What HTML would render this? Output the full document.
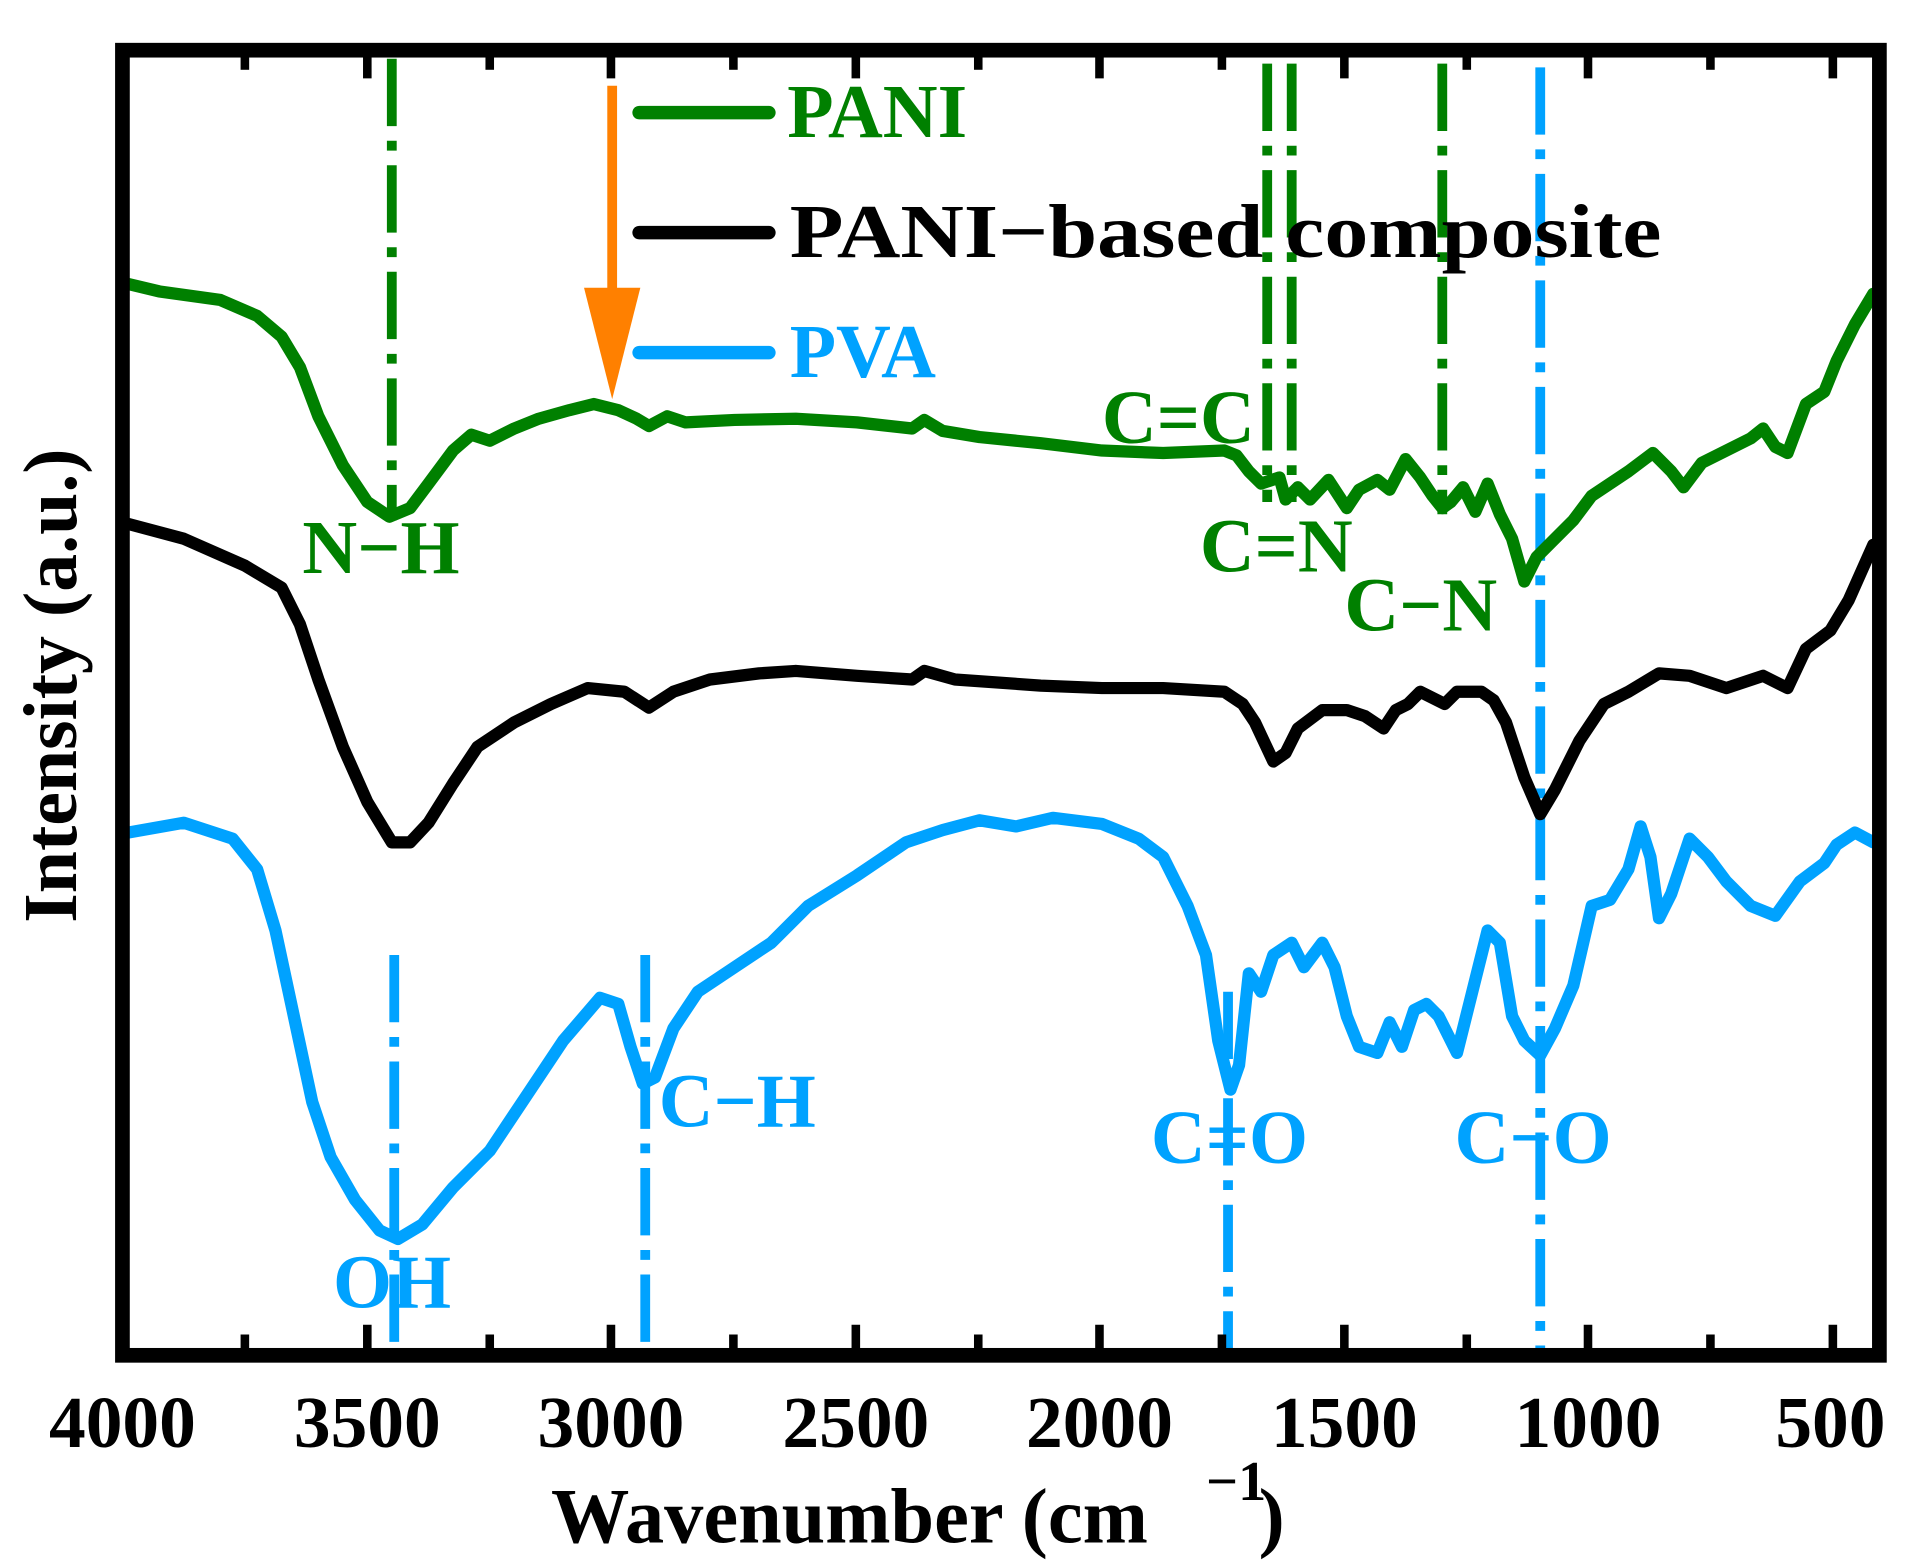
<!DOCTYPE html>
<html><head><meta charset="utf-8"><style>
html,body{margin:0;padding:0;background:#fff}
svg{display:block}
text{font-family:"Liberation Serif",serif;font-weight:bold}
</style></head><body>
<svg width="1910" height="1561" viewBox="0 0 1560 1275" preserveAspectRatio="none" xmlns="http://www.w3.org/2000/svg">
<rect width="1560" height="1275" fill="#fff"/>
<!-- dash-dot reference lines -->
<g fill="none" stroke-width="8" stroke-dasharray="55,12,8,12">
<line x1="320" y1="48" x2="320" y2="425" stroke="#008000"/>
<line x1="1035" y1="52" x2="1035" y2="410" stroke="#008000"/>
<line x1="1055" y1="52" x2="1055" y2="410" stroke="#008000"/>
<line x1="1178" y1="52" x2="1178" y2="420" stroke="#008000"/>
<line x1="1258" y1="55" x2="1258" y2="1108" stroke="#00a2ff"/>
<line x1="322" y1="780" x2="322" y2="1108" stroke="#00a2ff"/>
<line x1="527" y1="780" x2="527" y2="1108" stroke="#00a2ff"/>
<line x1="1003" y1="810" x2="1003" y2="1108" stroke="#00a2ff"/>
</g>
<!-- orange arrow -->
<line x1="500" y1="70" x2="500" y2="240" stroke="#ff8000" stroke-width="8"/>
<polygon points="477,235 523,235 500,326" fill="#ff8000"/>
<!-- curves -->
<g fill="none" stroke-width="10" stroke-linejoin="round" stroke-linecap="round">
<polyline stroke="#008000" points="105,232 130,238 180,245 210,258 230,275 245,300 260,340 280,380 300,410 318,422 335,415 350,395 370,368 385,355 400,360 420,350 440,342 465,335 485,330 505,335 520,342 530,348 545,340 560,345 600,343 650,342 700,345 745,350 755,343 770,352 800,357 850,362 900,368 950,370 1000,368 1010,372 1020,385 1030,395 1045,390 1050,408 1060,398 1070,408 1085,392 1100,415 1110,400 1125,392 1135,400 1148,375 1160,390 1170,405 1178,415 1185,410 1195,398 1205,418 1215,395 1225,420 1235,440 1245,475 1255,455 1270,440 1285,425 1300,405 1330,385 1350,370 1365,385 1375,398 1390,378 1410,368 1430,358 1440,350 1450,365 1460,370 1475,330 1490,320 1500,295 1515,265 1530,240"/>
<polyline stroke="#000" points="105,428 150,440 200,462 230,480 245,510 260,555 280,610 300,655 320,688 335,688 350,672 370,640 390,610 420,590 450,575 480,562 510,565 530,578 550,565 580,555 620,550 650,548 700,552 745,555 755,548 780,555 850,560 900,562 950,562 1000,565 1015,575 1025,590 1040,622 1050,615 1060,595 1080,580 1100,580 1115,585 1130,595 1140,580 1150,575 1160,565 1170,570 1180,575 1190,565 1210,565 1220,572 1230,590 1245,635 1258,665 1270,645 1290,605 1310,575 1330,565 1355,550 1380,552 1410,562 1440,552 1460,562 1475,530 1495,515 1510,490 1530,445"/>
<polyline stroke="#00a2ff" points="105,680 150,672 190,685 210,710 225,760 240,830 255,900 270,945 290,980 310,1005 325,1012 345,1000 370,970 400,940 430,895 460,850 490,815 505,820 515,855 525,885 535,880 550,840 570,810 600,790 630,770 660,740 700,715 740,688 770,678 800,670 830,675 860,668 900,673 930,685 950,700 970,740 985,780 995,850 1005,890 1012,870 1020,795 1030,810 1040,780 1055,770 1065,790 1080,770 1090,790 1100,830 1110,855 1125,860 1135,835 1145,855 1155,825 1165,820 1175,830 1190,860 1200,820 1215,760 1225,770 1235,830 1245,850 1258,862 1270,840 1285,805 1300,740 1315,735 1330,710 1340,675 1348,700 1355,750 1365,730 1380,685 1395,700 1410,720 1430,740 1450,748 1470,720 1490,705 1500,690 1515,680 1530,688"/>
</g>
<!-- legend -->
<g stroke-width="11" stroke-linecap="round">
<line x1="522" y1="92" x2="628" y2="92" stroke="#008000"/>
<line x1="522" y1="190" x2="628" y2="190" stroke="#000"/>
<line x1="522" y1="288" x2="628" y2="288" stroke="#00a2ff"/>
</g>
<g font-size="62">
<text x="643" y="112" fill="#008000">PANI</text>
<text x="645" y="210" fill="#000" textLength="712" lengthAdjust="spacingAndGlyphs">PANI−based composite</text>
<text x="645" y="308" fill="#00a2ff">PVA</text>
<text x="247" y="468" fill="#008000">N−H</text>
<text x="900" y="362" fill="#008000">C=C</text>
<text x="980" y="467" fill="#008000">C=N</text>
<text x="1098" y="515" fill="#008000">C−N</text>
<text x="538" y="920" fill="#00a2ff">C−H</text>
<text x="940" y="950" fill="#00a2ff">C=O</text>
<text x="1188" y="950" fill="#00a2ff">C−O</text>
<text x="272" y="1068" fill="#00a2ff">OH</text>
</g>
<!-- axes frame -->
<rect x="100" y="41" width="1435" height="1066" fill="none" stroke="#000" stroke-width="12"/>
<g stroke="#000" stroke-width="7">
<line x1="300" y1="1107" x2="300" y2="1082"/><line x1="499" y1="1107" x2="499" y2="1082"/><line x1="699" y1="1107" x2="699" y2="1082"/><line x1="898" y1="1107" x2="898" y2="1082"/><line x1="1098" y1="1107" x2="1098" y2="1082"/><line x1="1297" y1="1107" x2="1297" y2="1082"/><line x1="1497" y1="1107" x2="1497" y2="1082"/>
<line x1="200" y1="1107" x2="200" y2="1090"/><line x1="400" y1="1107" x2="400" y2="1090"/><line x1="599" y1="1107" x2="599" y2="1090"/><line x1="799" y1="1107" x2="799" y2="1090"/><line x1="998" y1="1107" x2="998" y2="1090"/><line x1="1198" y1="1107" x2="1198" y2="1090"/><line x1="1397" y1="1107" x2="1397" y2="1090"/>
<line x1="300" y1="41" x2="300" y2="64"/><line x1="499" y1="41" x2="499" y2="64"/><line x1="699" y1="41" x2="699" y2="64"/><line x1="898" y1="41" x2="898" y2="64"/><line x1="1098" y1="41" x2="1098" y2="64"/><line x1="1297" y1="41" x2="1297" y2="64"/><line x1="1497" y1="41" x2="1497" y2="64"/>
<line x1="200" y1="41" x2="200" y2="57"/><line x1="400" y1="41" x2="400" y2="57"/><line x1="599" y1="41" x2="599" y2="57"/><line x1="799" y1="41" x2="799" y2="57"/><line x1="998" y1="41" x2="998" y2="57"/><line x1="1198" y1="41" x2="1198" y2="57"/><line x1="1397" y1="41" x2="1397" y2="57"/>
</g>
<g font-size="60" text-anchor="middle" fill="#000">
<text x="100" y="1182">4000</text><text x="300" y="1182">3500</text><text x="499" y="1182">3000</text><text x="699" y="1182">2500</text><text x="898" y="1182">2000</text><text x="1098" y="1182">1500</text><text x="1297" y="1182">1000</text><text x="1495" y="1182">500</text>
</g>
<text x="450" y="1260" font-size="64" fill="#000">Wavenumber (cm</text>
<text x="985" y="1225" font-size="46" fill="#000">−1</text>
<text x="1028" y="1260" font-size="64" fill="#000">)</text>
<text transform="translate(62,560) rotate(-90)" font-size="62" text-anchor="middle" fill="#000">Intensity (a.u.)</text>
</svg>
</body></html>
